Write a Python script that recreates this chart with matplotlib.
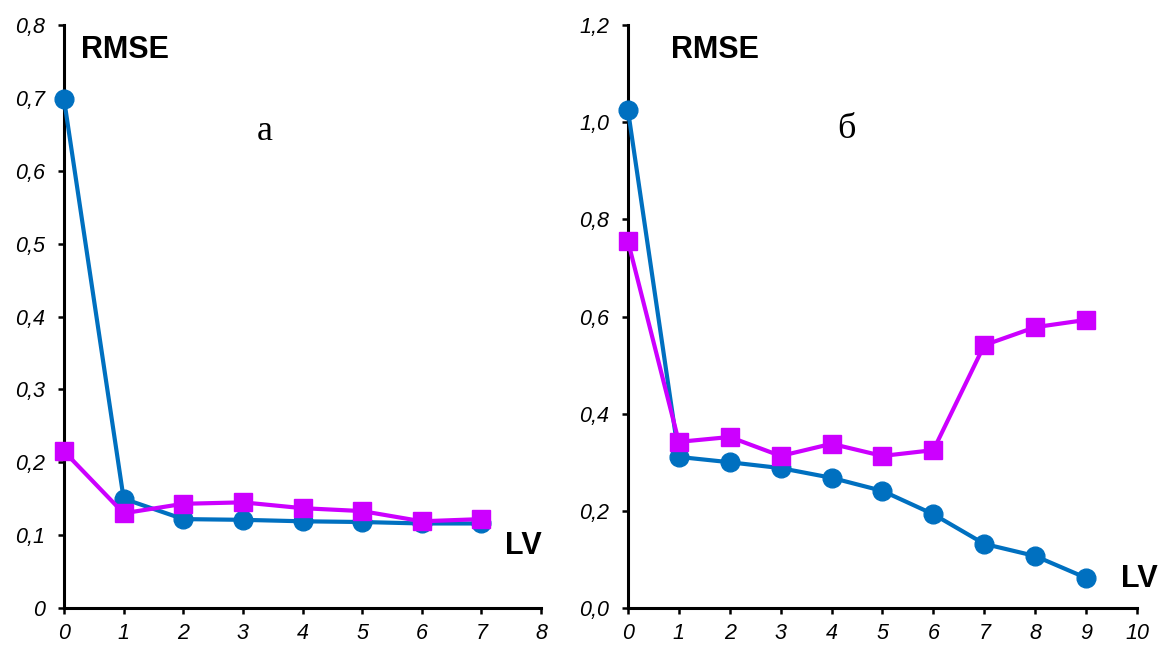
import matplotlib
matplotlib.use("Agg")
import matplotlib.pyplot as plt

lv_a = [0, 1, 2, 3, 4, 5, 6, 7]
blue_a = [0.698, 0.150, 0.122, 0.121, 0.119, 0.118, 0.116, 0.116]
mag_a = [0.215, 0.130, 0.143, 0.145, 0.137, 0.133, 0.119, 0.122]

lv_b = [0, 1, 2, 3, 4, 5, 6, 7, 8, 9]
blue_b = [1.025, 0.311, 0.300, 0.288, 0.268, 0.241, 0.193, 0.132, 0.107, 0.062]
mag_b = [0.755, 0.342, 0.352, 0.313, 0.338, 0.313, 0.325, 0.541, 0.578, 0.593]

yticks_a = [0, 0.1, 0.2, 0.3, 0.4, 0.5, 0.6, 0.7, 0.8]
yticklabels_a = ["0", "0,1", "0,2", "0,3", "0,4", "0,5", "0,6", "0,7", "0,8"]
yticks_b = [0, 0.2, 0.4, 0.6, 0.8, 1.0, 1.2]
yticklabels_b = ["0,0", "0,2", "0,4", "0,6", "0,8", "1,0", "1,2"]

BLUE = "#0070C0"
MAG = "#CC00FF"

plt.rcParams['font.family'] = ['Liberation Sans', 'DejaVu Sans']

fig = plt.figure(figsize=(11.62, 6.46), dpi=100)
ax1 = fig.add_axes([0.0551, 0.0588, 0.4105, 0.9025])
ax2 = fig.add_axes([0.5404, 0.0588, 0.4381, 0.9025])

def style(ax, xmax, yticks, ylabels, ymax):
    ax.set_xlim(0, xmax)
    ax.set_ylim(0, ymax)
    ax.set_xticks(range(0, xmax + 1))
    ax.set_xticklabels([str(i) for i in range(0, xmax + 1)], fontstyle='italic', fontsize=15.5)
    ax.set_yticks(yticks)
    ax.set_yticklabels(ylabels, fontstyle='italic', fontsize=15.5)
    for s in ['top', 'right']:
        ax.spines[s].set_visible(False)
    for s in ['left', 'bottom']:
        ax.spines[s].set_linewidth(2.2)
    ax.tick_params(width=1.8, length=4.5, direction='out')
    ax.tick_params(axis='y', pad=9)
    ax.tick_params(axis='x', pad=6)

def draw(ax, x, b, m):
    ax.plot(x, b, color=BLUE, lw=3, marker='o', ms=13.5, clip_on=False, zorder=3)
    ax.plot(x, m, color=MAG, lw=3, marker='s', ms=12.5, clip_on=False, zorder=4)

draw(ax1, lv_a, blue_a, mag_a)
draw(ax2, lv_b, blue_b, mag_b)
style(ax1, 8, yticks_a, yticklabels_a, 0.8)
style(ax2, 10, yticks_b, yticklabels_b, 1.2)

serif = ['Liberation Serif', 'DejaVu Serif']
ax1.text(0.035, 0.957, "RMSE", transform=ax1.transAxes, fontsize=22, fontweight='bold', va='center', ha='left')
ax1.text(0.42, 0.818, "а", transform=ax1.transAxes, fontsize=26, family=serif, va='center', ha='center')
ax1.text(0.925, 0.106, "LV", transform=ax1.transAxes, fontsize=22, fontweight='bold', va='center', ha='left')

ax2.text(0.085, 0.957, "RMSE", transform=ax2.transAxes, fontsize=22, fontweight='bold', va='center', ha='left')
ax2.text(0.43, 0.82, "б", transform=ax2.transAxes, fontsize=26, family=serif, va='center', ha='center')
ax2.text(0.968, 0.05, "LV", transform=ax2.transAxes, fontsize=22, fontweight='bold', va='center', ha='left')

fig.savefig("out.png", dpi=100)
